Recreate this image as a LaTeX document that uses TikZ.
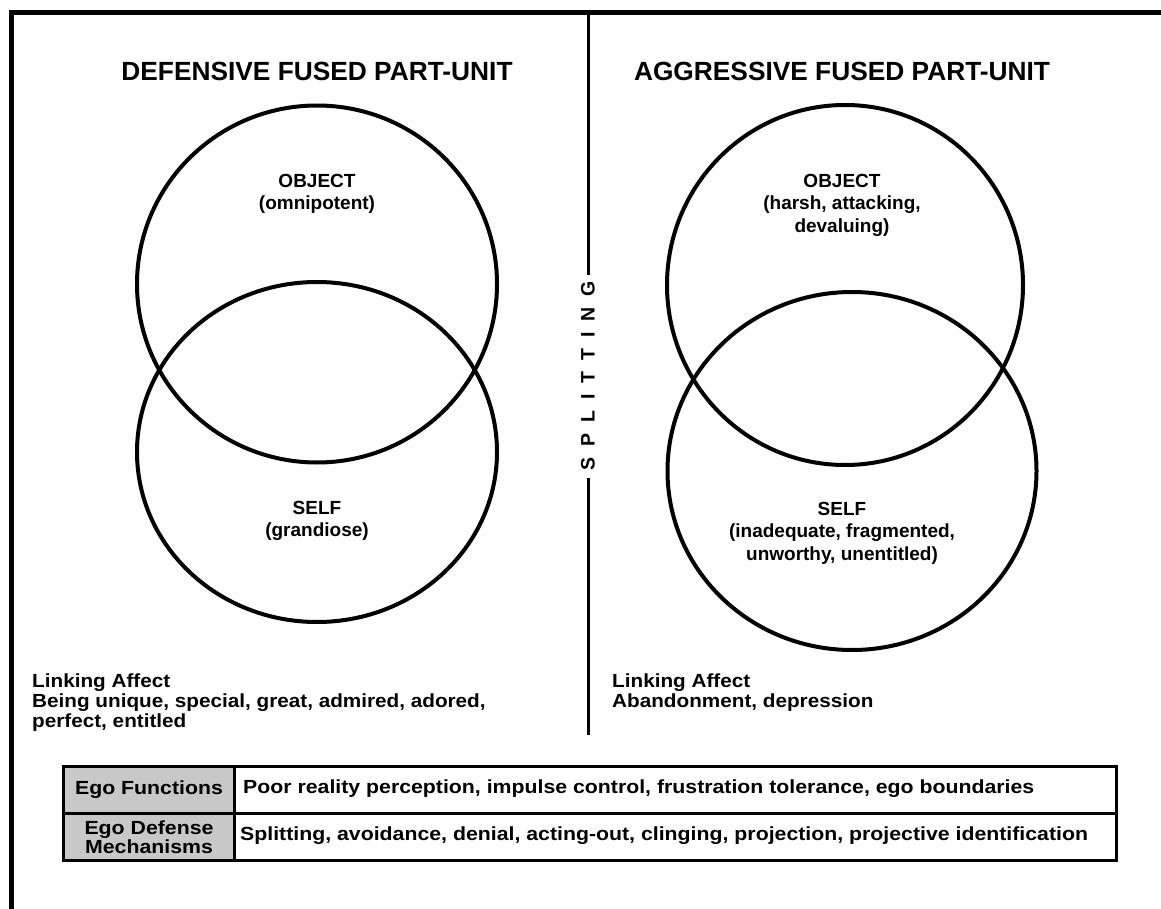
\documentclass[tikz,border=0pt]{standalone}
\usepackage{fontspec}
\setmainfont{Liberation Sans}
\newfontfamily\widefont{Liberation Sans}[FakeStretch=1.12]
\newfontfamily\affectfont{Liberation Sans}[FakeStretch=1.09]
\usetikzlibrary{shapes.geometric}
\definecolor{cellgrey}{RGB}{200,200,200}
\begin{document}
\begin{tikzpicture}[x=1pt,y=-1pt,
  circ/.style={draw, ellipse, line width=4pt, inner sep=0pt},
  title/.style={font=\fontsize{26.3}{30}\selectfont\bfseries},
  lbl/.style={font=\fontsize{19}{22.5}\selectfont\bfseries, align=center},
  affect/.style={font=\affectfont\fontsize{19}{20}\selectfont\bfseries, align=left, anchor=north west, inner sep=0pt},
  headcell/.style={draw, line width=3pt, fill=cellgrey, minimum width=171pt, minimum height=47pt, anchor=north west, align=center, inner sep=0pt, font=\widefont\fontsize{19}{19}\selectfont\bfseries},
  bodycell/.style={draw, line width=3pt, minimum width=882pt, minimum height=47pt, anchor=north west, inner sep=0pt},
  celltext/.style={anchor=west, inner sep=0pt, font=\widefont\fontsize{19}{19}\selectfont\bfseries}
]
\useasboundingbox (0,0) rectangle (1161,909);
% frame
\coordinate (fr) at (1161,12.5);
\coordinate (fc) at (11,12.5);
\coordinate (fb) at (11,909);
\draw[line width=5pt, line join=miter] (fr) -- (fc) -- (fb);
% splitting line
\coordinate (vt) at (588,15);
\coordinate (vm1) at (588,275);
\coordinate (vm2) at (588,478);
\coordinate (vb) at (588,735);
\draw[line width=3pt] (vt) -- (vm1);
\draw[line width=3pt] (vm2) -- (vb);
\node[rotate=90, inner sep=0pt, font=\fontsize{19.5}{20}\selectfont\bfseries] (split) at (588,376)
  {S\kern11pt P\kern11pt L\kern11pt I\kern11pt T\kern11pt T\kern11pt I\kern11pt N\kern11pt G};
% titles
\node[title] (tl) at (317,71) {DEFENSIVE FUSED PART-UNIT};
\node[title] (tr) at (842,71) {AGGRESSIVE FUSED PART-UNIT};
% circles
\node[circ, minimum width=360pt, minimum height=357pt] (lo) at (317,284) {};
\node[circ, minimum width=360pt, minimum height=340pt] (ls) at (317,452) {};
\node[circ, minimum width=356pt, minimum height=360pt] (ro) at (845,285) {};
\node[circ, minimum width=369pt, minimum height=358pt] (rs) at (852,471) {};
% circle labels
\node[lbl] (lot) at (317,194) {OBJECT\\(omnipotent)};
\node[lbl] (lst) at (317,521) {SELF\\(grandiose)};
\node[lbl] (rot) at (842,205) {OBJECT\\(harsh, attacking,\\devaluing)};
\node[lbl] (rst) at (842,533) {SELF\\(inadequate, fragmented,\\unworthy, unentitled)};
% linking affect
\node[affect] (la) at (32,674) {Linking Affect\\Being unique, special, great, admired, adored,\\perfect, entitled};
\node[affect] (ra) at (612,674) {Linking Affect\\Abandonment, depression};
% table
\node[headcell] (h1) at (62,765) {Ego Functions};
\node[headcell] (h2) at (62,812) {Ego Defense\\Mechanisms};
\node[bodycell] (b1) at (233,765) {};
\node[bodycell] (b2) at (233,812) {};
\node[celltext] (t1) at (243,789) {Poor reality perception, impulse control, frustration tolerance, ego boundaries};
\node[celltext] (t2) at (240,836) {Splitting, avoidance, denial, acting-out, clinging, projection, projective identification};
\end{tikzpicture}
\end{document}
